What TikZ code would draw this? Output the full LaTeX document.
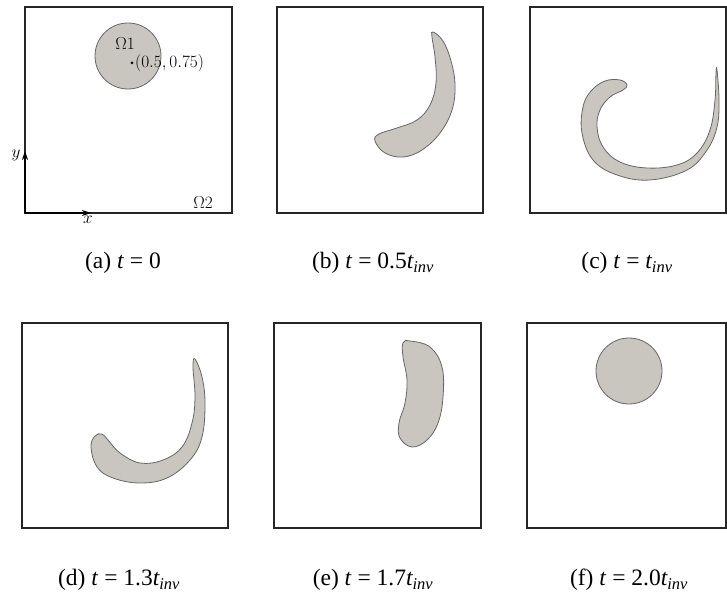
\documentclass[tikz,border=0pt]{standalone}
\usepackage{fontspec}
\newfontfamily\capfont{Liberation Serif}
\usetikzlibrary{arrows.meta}
\definecolor{blobgray}{RGB}{200,198,190}
\tikzset{
  panel/.style={draw=black!85, line width=1.1pt},
  blob/.style={fill=blobgray, draw=black!60, line width=0.8pt},
  axis/.style={-{Stealth[length=9pt,width=6pt]}, line width=1.2pt},
  subcap/.style={font=\capfont\fontsize{23.5}{27}\selectfont},
  lbl/.style={font=\fontsize{18.5}{22}\selectfont, inner sep=1pt}
}

\begin{document}
\begin{tikzpicture}[x=1pt, y=1pt]
\useasboundingbox (0,0) rectangle (727,596);

\begin{scope}[shift={(25,383)}]
\draw[panel] (0,0) rectangle (207,206);
\draw[blob] (103,157) circle (33);
\fill (107,150) circle (1.5);
\node[lbl, anchor=west] (ctr) at (109,150) {$(0.5, 0.75)$};
\node[lbl] (om1) at (100,169) {$\Omega1$};
\node[lbl] (om2) at (178,10) {$\Omega2$};
\coordinate (o) at (0,0);
\coordinate (ytip) at (0,62);
\coordinate (xtip) at (66,0);
\draw[axis] (o) -- (ytip) node[lbl, left, xshift=-3pt, yshift=-4pt] (ylbl) {$y$};
\draw[axis] (o) -- (xtip) node[lbl, below, xshift=-3pt, yshift=-1pt] (xlbl) {$x$};
\end{scope}

\begin{scope}[shift={(277,383)}]
\draw[panel] (0,0) rectangle (206,206);
\draw[blob] plot[smooth cycle, tension=0.65] coordinates {(156,181) (166,172) (174,152) (178,128) (175,103) (163,80) (145,63) (126,56) (108,60) (98,72) (102,79) (120,85) (140,93) (153,108) (159,130) (158,156) (155,176)};
\end{scope}

\begin{scope}[shift={(530,383)}]
\draw[panel] (0,0) rectangle (196,206);
\draw[blob] plot[smooth cycle, tension=0.65] coordinates {(187,143) (189,113) (187,86) (177,63) (157,43) (120,33) (87,38) (63,53) (52,80) (53,106) (61,122) (75,132) (90,133) (97,128) (93,123) (80,116) (70,103) (67,86) (73,66) (90,51) (117,45) (147,48) (167,60) (180,83) (185,113) (186,140)};
\end{scope}

\begin{scope}[shift={(22,68)}]
\draw[panel] (0,0) rectangle (206,205);
\draw[blob] plot[smooth cycle, tension=0.65] coordinates {(173,169) (180,151) (183,125) (180,91) (168,68) (145,50) (118,45) (91,50) (75,61) (69,81) (73,92) (80,94) (86,88) (98,75) (118,65) (141,68) (160,81) (170,105) (173,131) (171,161)};
\end{scope}

\begin{scope}[shift={(274,68)}]
\draw[panel] (0,0) rectangle (207,205);
\draw[blob] plot[smooth cycle, tension=0.65] coordinates {(136,187) (156,181) (168,161) (169,131) (164,105) (153,88) (138,81) (126,90) (125,105) (131,125) (133,148) (129,171) (129,185)};
\end{scope}

\begin{scope}[shift={(527,68)}]
\draw[panel] (0,0) rectangle (199,205);
\draw[blob] (102,157) circle (33);
\end{scope}

\node[subcap] (capa) at (123,333) {(a) \textit{t} = 0};
\node[subcap] (capb) at (373,333) {(b) \textit{t} = 0.5\textit{t\textsubscript{inv}}};
\node[subcap] (capc) at (627,333) {(c) \textit{t} = \textit{t\textsubscript{inv}}};
\node[subcap] (capd) at (119,16) {(d) \textit{t} = 1.3\textit{t\textsubscript{inv}}};
\node[subcap] (cape) at (373,16) {(e) \textit{t} = 1.7\textit{t\textsubscript{inv}}};
\node[subcap] (capf) at (629,16) {(f) \textit{t} = 2.0\textit{t\textsubscript{inv}}};
\end{tikzpicture}
\end{document}
